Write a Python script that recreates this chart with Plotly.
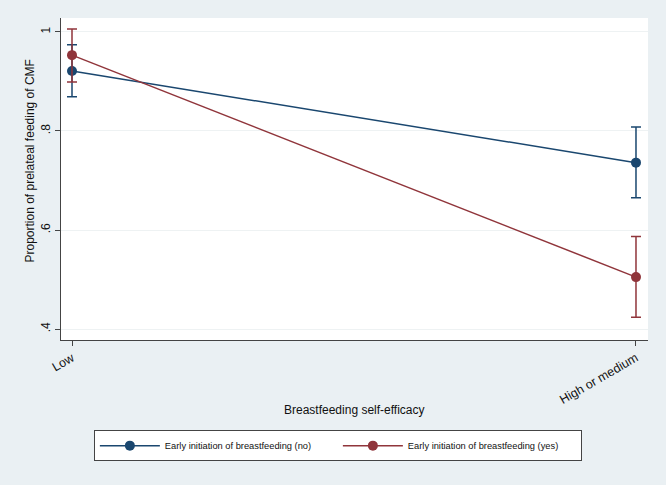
import plotly.graph_objects as go

categories = ["Low", "High or medium"]
no_mean = [0.921, 0.736]
no_lo = [0.869, 0.665]
no_hi = [0.974, 0.808]
yes_mean = [0.953, 0.505]
yes_lo = [0.899, 0.424]
yes_hi = [1.006, 0.587]
series_names = ["Early initiation of breastfeeding (no)", "Early initiation of breastfeeding (yes)"]
y_ticks = [0.4, 0.6, 0.8, 1.0]
y_ticktext = [".4", ".6", ".8", "1"]
x_title = "Breastfeeding self-efficacy"
y_title = "Proportion of prelateal feeding of CMF"

BLUE = "#1a476f"
RED = "#90353b"
BG = "#eaf0f3"

xpos = list(range(len(categories)))

fig = go.Figure()
for name, mean, lo, hi, col in [
    (series_names[0], no_mean, no_lo, no_hi, BLUE),
    (series_names[1], yes_mean, yes_lo, yes_hi, RED),
]:
    fig.add_trace(go.Scatter(
        x=xpos, y=mean, mode="lines+markers", name=name,
        line=dict(color=col, width=1.5),
        marker=dict(color=col, size=10),
        error_y=dict(type="data", symmetric=False,
                     array=[h - m for h, m in zip(hi, mean)],
                     arrayminus=[m - l for m, l in zip(mean, lo)],
                     color=col, thickness=1.5, width=5),
    ))

fig.update_layout(
    width=666, height=485,
    paper_bgcolor=BG, plot_bgcolor="white",
    margin=dict(l=61, r=18, t=18, b=145, autoexpand=False),
    font=dict(family="Liberation Sans, Arial, sans-serif", size=12, color="#111"),
    showlegend=True,
    legend=dict(orientation="h", x=0.056, xanchor="left", y=-0.28, yanchor="top",
                bgcolor="white", bordercolor="#444", borderwidth=1,
                font=dict(size=9.3), entrywidth=168, itemwidth=60,
                tracegroupgap=0),
    annotations=[
        dict(text=x_title, xref="paper", yref="paper", x=0.5, y=-0.217,
             xanchor="center", yanchor="middle", showarrow=False,
             font=dict(size=12)),
        dict(text=y_title, xref="paper", yref="paper", x=-0.053, y=0.557,
             xanchor="center", yanchor="middle", showarrow=False, textangle=-90,
             font=dict(size=12)),
    ],
)
fig.update_xaxes(
    range=[-0.0195, 1.0213], tickvals=xpos, ticktext=categories,
    tickangle=-30, ticks="outside", ticklen=5, tickcolor="#444",
    showline=True, linecolor="#444", linewidth=1, showgrid=False, zeroline=False,
    automargin=False, tickfont=dict(size=12.5),
)
fig.update_yaxes(
    range=[0.378, 1.028], tickvals=y_ticks, ticktext=y_ticktext,
    tickangle=-90, ticks="outside", ticklen=5, tickcolor="#444",
    showline=True, linecolor="#444", linewidth=1, automargin=False,
    showgrid=True, gridcolor="#eef2f3", gridwidth=1, zeroline=False,
    tickfont=dict(size=12),
)

fig.write_html("out.html", config={"displayModeBar": False},
               post_script="document.body.style.margin='0';")
